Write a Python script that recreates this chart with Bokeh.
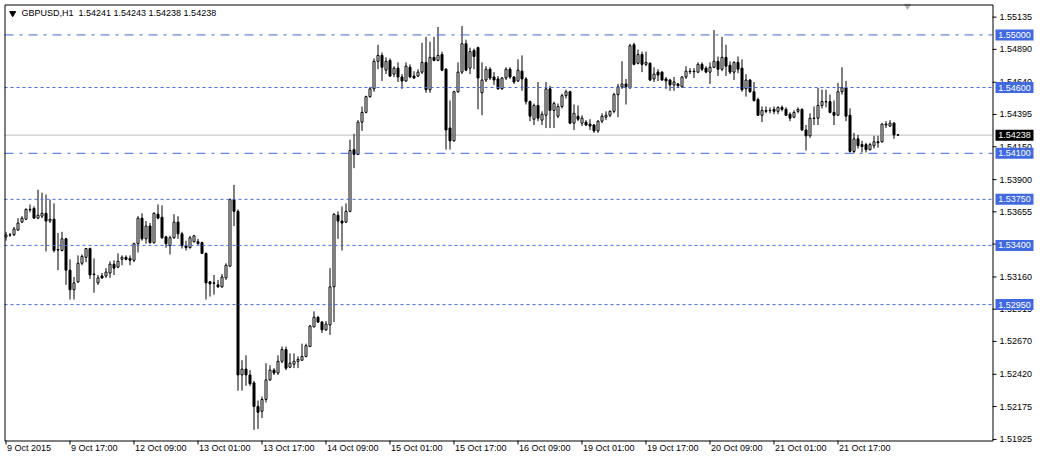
from bokeh.plotting import figure
from bokeh.models import Range1d, ColumnDataSource
from bokeh.core.properties import value
from bokeh.embed import file_html
from bokeh.resources import INLINE

# ---------------- data (GBPUSD, H1) ----------------
symbol = "GBPUSD,H1"

opens = [1.53465, 1.53478, 1.53480, 1.53517, 1.53577, 1.53599, 1.53674, 1.53681, 1.53607, 1.53622,
         1.53644, 1.53585, 1.53599, 1.53368, 1.53361, 1.53450, 1.53212, 1.53063, 1.53123, 1.53264,
         1.53309, 1.53376, 1.53182, 1.53115, 1.53168, 1.53168, 1.53190, 1.53257, 1.53235, 1.53294,
         1.53309, 1.53301, 1.53287, 1.53413, 1.53607, 1.53450, 1.53547, 1.53421, 1.53637, 1.53614,
         1.53465, 1.53398, 1.53458, 1.53577, 1.53488, 1.53398, 1.53383, 1.53428, 1.53428, 1.53421,
         1.53339, 1.53123, 1.53115, 1.53100, 1.53085, 1.53153, 1.53242, 1.53748, 1.53659, 1.52415,
         1.52460, 1.52415, 1.52355, 1.52176, 1.52139, 1.52229, 1.52378, 1.52452, 1.52430, 1.52519,
         1.52609, 1.52474, 1.52497, 1.52519, 1.52527, 1.52556, 1.52631, 1.52780, 1.52854, 1.52817,
         1.52758, 1.52795, 1.53085, 1.53629, 1.53585, 1.53577, 1.53659, 1.54128, 1.54091, 1.54337,
         1.54411, 1.54531, 1.54590, 1.54799, 1.54844, 1.54732, 1.54806, 1.54702, 1.54747, 1.54680,
         1.54650, 1.54754, 1.54687, 1.54687, 1.54717, 1.54791, 1.54583, 1.54829, 1.54806, 1.54851,
         1.54739, 1.54292, 1.54195, 1.54568, 1.54717, 1.54933, 1.54747, 1.54881, 1.54903, 1.54560,
         1.54657, 1.54739, 1.54680, 1.54665, 1.54590, 1.54672, 1.54739, 1.54680, 1.54650, 1.54724,
         1.54665, 1.54493, 1.54359, 1.54464, 1.54352, 1.54389, 1.54590, 1.54426, 1.54382, 1.54456,
         1.54538, 1.54568, 1.54329, 1.54382, 1.54329, 1.54337, 1.54322, 1.54315, 1.54270, 1.54344,
         1.54374, 1.54389, 1.54419, 1.54546, 1.54605, 1.54627, 1.54598, 1.54925, 1.54784, 1.54851,
         1.54776, 1.54784, 1.54665, 1.54717, 1.54717, 1.54665, 1.54657, 1.54620, 1.54627, 1.54605,
         1.54680, 1.54724, 1.54720, 1.54717, 1.54776, 1.54747, 1.54717, 1.54754, 1.54799, 1.54739,
         1.54829, 1.54769, 1.54717, 1.54791, 1.54747, 1.54590, 1.54657, 1.54568, 1.54508, 1.54389,
         1.54426, 1.54426, 1.54434, 1.54419, 1.54449, 1.54434, 1.54397, 1.54374, 1.54419, 1.54434,
         1.54277, 1.54233, 1.54367, 1.54367, 1.54464, 1.54493, 1.54493, 1.54411, 1.54389, 1.54568,
         1.54598, 1.54389, 1.54114, 1.54210, 1.54166, 1.54166, 1.54128, 1.54158, 1.54188, 1.54188,
         1.54315, 1.54307, 1.54329, 1.54241]

highs = [1.53503, 1.53495, 1.53540, 1.53607, 1.53622, 1.53681, 1.53711, 1.53696, 1.53823, 1.53801,
         1.53786, 1.53748, 1.53719, 1.53495, 1.53503, 1.53458, 1.53294, 1.53160, 1.53324, 1.53331,
         1.53376, 1.53383, 1.53301, 1.53175, 1.53190, 1.53227, 1.53279, 1.53287, 1.53339, 1.53324,
         1.53324, 1.53324, 1.53421, 1.53622, 1.53644, 1.53585, 1.53570, 1.53652, 1.53711, 1.53704,
         1.53473, 1.53473, 1.53637, 1.53622, 1.53503, 1.53436, 1.53473, 1.53480, 1.53450, 1.53428,
         1.53346, 1.53130, 1.53175, 1.53138, 1.53182, 1.53264, 1.53756, 1.53860, 1.53674, 1.52527,
         1.52564, 1.52452, 1.52370, 1.52221, 1.52251, 1.52504, 1.52489, 1.52467, 1.52564, 1.52631,
         1.52631, 1.52579, 1.52579, 1.52556, 1.52653, 1.52653, 1.52795, 1.52899, 1.52862, 1.52825,
         1.52825, 1.53227, 1.53644, 1.53659, 1.53696, 1.53719, 1.54203, 1.54248, 1.54352, 1.54456,
         1.54538, 1.54605, 1.54821, 1.54925, 1.54866, 1.54829, 1.54821, 1.54762, 1.54791, 1.54702,
         1.54791, 1.54776, 1.54724, 1.54739, 1.54940, 1.54985, 1.54948, 1.54985, 1.55060, 1.54873,
         1.54747, 1.54501, 1.54575, 1.54791, 1.55067, 1.54963, 1.54903, 1.54896, 1.54911, 1.54791,
         1.54762, 1.54754, 1.54717, 1.54687, 1.54680, 1.54754, 1.54754, 1.54687, 1.54814, 1.54844,
         1.54680, 1.54501, 1.54478, 1.54642, 1.54419, 1.54642, 1.54613, 1.54493, 1.54478, 1.54553,
         1.54583, 1.54575, 1.54471, 1.54464, 1.54389, 1.54352, 1.54359, 1.54322, 1.54352, 1.54404,
         1.54419, 1.54426, 1.54560, 1.54627, 1.54799, 1.54665, 1.54933, 1.54940, 1.54888, 1.54873,
         1.54873, 1.54791, 1.54754, 1.54739, 1.54724, 1.54680, 1.54665, 1.54680, 1.54635, 1.54687,
         1.54762, 1.54747, 1.54747, 1.54791, 1.54791, 1.54762, 1.54791, 1.55037, 1.54836, 1.54985,
         1.54925, 1.54799, 1.54799, 1.54836, 1.54814, 1.54702, 1.54665, 1.54642, 1.54523, 1.54456,
         1.54456, 1.54449, 1.54456, 1.54456, 1.54464, 1.54449, 1.54411, 1.54426, 1.54449, 1.54441,
         1.54315, 1.54404, 1.54456, 1.54598, 1.54583, 1.54583, 1.54546, 1.54501, 1.54635, 1.54754,
         1.54650, 1.54441, 1.54255, 1.54240, 1.54195, 1.54180, 1.54180, 1.54233, 1.54233, 1.54329,
         1.54344, 1.54352, 1.54337, 1.54243]

lows = [1.53436, 1.53465, 1.53473, 1.53510, 1.53570, 1.53592, 1.53652, 1.53607, 1.53599, 1.53607,
        1.53354, 1.53570, 1.53346, 1.53212, 1.53354, 1.53100, 1.52989, 1.52989, 1.53115, 1.53249,
        1.53272, 1.53145, 1.53041, 1.53100, 1.53145, 1.53153, 1.53153, 1.53175, 1.53227, 1.53249,
        1.53287, 1.53249, 1.53272, 1.53346, 1.53436, 1.53413, 1.53413, 1.53413, 1.53599, 1.53450,
        1.53383, 1.53331, 1.53450, 1.53450, 1.53376, 1.53361, 1.53376, 1.53421, 1.53406, 1.53339,
        1.52989, 1.53011, 1.53026, 1.53078, 1.53078, 1.53138, 1.53235, 1.53547, 1.52296, 1.52296,
        1.52333, 1.52333, 1.51998, 1.52005, 1.52087, 1.52206, 1.52370, 1.52415, 1.52415, 1.52504,
        1.52452, 1.52467, 1.52467, 1.52467, 1.52527, 1.52549, 1.52631, 1.52780, 1.52810, 1.52735,
        1.52750, 1.52720, 1.52817, 1.53450, 1.53361, 1.53570, 1.53652, 1.53987, 1.54091, 1.54270,
        1.54404, 1.54523, 1.54568, 1.54739, 1.54650, 1.54702, 1.54680, 1.54680, 1.54642, 1.54590,
        1.54642, 1.54672, 1.54665, 1.54680, 1.54702, 1.54560, 1.54560, 1.54799, 1.54799, 1.54724,
        1.54128, 1.54128, 1.54188, 1.54560, 1.54702, 1.54724, 1.54702, 1.54739, 1.54434, 1.54389,
        1.54642, 1.54657, 1.54620, 1.54583, 1.54583, 1.54657, 1.54665, 1.54627, 1.54642, 1.54575,
        1.54471, 1.54344, 1.54315, 1.54344, 1.54315, 1.54292, 1.54292, 1.54292, 1.54367, 1.54441,
        1.54516, 1.54322, 1.54277, 1.54344, 1.54307, 1.54307, 1.54277, 1.54255, 1.54255, 1.54329,
        1.54352, 1.54374, 1.54404, 1.54374, 1.54590, 1.54471, 1.54590, 1.54769, 1.54776, 1.54717,
        1.54762, 1.54650, 1.54642, 1.54650, 1.54650, 1.54590, 1.54575, 1.54575, 1.54605, 1.54598,
        1.54665, 1.54702, 1.54672, 1.54709, 1.54724, 1.54709, 1.54627, 1.54747, 1.54687, 1.54724,
        1.54687, 1.54702, 1.54657, 1.54709, 1.54568, 1.54531, 1.54560, 1.54493, 1.54389, 1.54337,
        1.54404, 1.54404, 1.54397, 1.54397, 1.54419, 1.54389, 1.54344, 1.54367, 1.54404, 1.54270,
        1.54121, 1.54218, 1.54315, 1.54315, 1.54441, 1.54449, 1.54404, 1.54315, 1.54389, 1.54546,
        1.54344, 1.54106, 1.54099, 1.54136, 1.54106, 1.54106, 1.54121, 1.54136, 1.54143, 1.54180,
        1.54292, 1.54300, 1.54210, 1.54238]

closes = [1.53480, 1.53480, 1.53525, 1.53570, 1.53607, 1.53674, 1.53670, 1.53607, 1.53629, 1.53644,
          1.53585, 1.53599, 1.53361, 1.53365, 1.53450, 1.53212, 1.53063, 1.53115, 1.53264, 1.53316,
          1.53376, 1.53175, 1.53179, 1.53153, 1.53153, 1.53197, 1.53257, 1.53227, 1.53279, 1.53309,
          1.53294, 1.53287, 1.53413, 1.53607, 1.53450, 1.53547, 1.53421, 1.53644, 1.53607, 1.53458,
          1.53413, 1.53458, 1.53577, 1.53488, 1.53398, 1.53383, 1.53458, 1.53473, 1.53413, 1.53339,
          1.53115, 1.53108, 1.53112, 1.53085, 1.53160, 1.53249, 1.53748, 1.53659, 1.52415, 1.52460,
          1.52415, 1.52348, 1.52176, 1.52132, 1.52229, 1.52378, 1.52452, 1.52430, 1.52519, 1.52609,
          1.52467, 1.52504, 1.52519, 1.52534, 1.52556, 1.52638, 1.52787, 1.52854, 1.52817, 1.52758,
          1.52802, 1.53085, 1.53637, 1.53585, 1.53570, 1.53659, 1.54121, 1.54091, 1.54337, 1.54411,
          1.54531, 1.54590, 1.54799, 1.54844, 1.54754, 1.54799, 1.54687, 1.54747, 1.54680, 1.54650,
          1.54762, 1.54680, 1.54672, 1.54717, 1.54791, 1.54583, 1.54829, 1.54806, 1.54844, 1.54732,
          1.54277, 1.54195, 1.54568, 1.54717, 1.54933, 1.54732, 1.54873, 1.54836, 1.54672, 1.54657,
          1.54739, 1.54672, 1.54657, 1.54590, 1.54672, 1.54739, 1.54680, 1.54642, 1.54732, 1.54665,
          1.54493, 1.54382, 1.54464, 1.54367, 1.54397, 1.54590, 1.54426, 1.54478, 1.54456, 1.54538,
          1.54568, 1.54329, 1.54404, 1.54359, 1.54367, 1.54315, 1.54307, 1.54270, 1.54344, 1.54382,
          1.54389, 1.54419, 1.54546, 1.54605, 1.54627, 1.54605, 1.54918, 1.54776, 1.54851, 1.54776,
          1.54791, 1.54657, 1.54702, 1.54695, 1.54657, 1.54650, 1.54620, 1.54642, 1.54613, 1.54680,
          1.54724, 1.54720, 1.54724, 1.54776, 1.54739, 1.54717, 1.54754, 1.54799, 1.54739, 1.54829,
          1.54762, 1.54717, 1.54791, 1.54739, 1.54583, 1.54657, 1.54568, 1.54501, 1.54389, 1.54426,
          1.54419, 1.54424, 1.54419, 1.54449, 1.54434, 1.54389, 1.54367, 1.54411, 1.54434, 1.54277,
          1.54233, 1.54367, 1.54365, 1.54464, 1.54493, 1.54491, 1.54411, 1.54389, 1.54568, 1.54598,
          1.54382, 1.54114, 1.54210, 1.54158, 1.54151, 1.54128, 1.54166, 1.54188, 1.54180, 1.54322,
          1.54322, 1.54329, 1.54240, 1.54238]

# time axis labels (every 16 hourly bars)
time_tick_bars = [0, 16, 32, 48, 64, 80, 96, 112, 128, 144, 160, 176, 192, 208]
time_tick_labels = ["9 Oct 2015", "9 Oct 17:00", "12 Oct 09:00", "13 Oct 01:00", "13 Oct 17:00",
                    "14 Oct 09:00", "15 Oct 01:00", "15 Oct 17:00", "16 Oct 09:00", "19 Oct 01:00",
                    "19 Oct 17:00", "20 Oct 09:00", "21 Oct 01:00", "21 Oct 17:00"]

# price scale ticks
price_ticks = [1.55135, 1.54890, 1.54640, 1.54395, 1.54150, 1.53900, 1.53655, 1.53410,
               1.53160, 1.52915, 1.52670, 1.52420, 1.52175, 1.51925]

# horizontal line objects
level_prices = [1.55000, 1.54600, 1.54100, 1.53750, 1.53400, 1.52950]
level_dashes = ["9 6 3 6", "3 3", "9 6 3 6", "3 3", "3 3", "3 3"]

# ---------------- layout / style ----------------
FONT = "Liberation Sans"
FS = "9px"
BLUE = "#4169E1"
W, H = 1034, 454
PXB = 4.0                       # pixels per hourly bar
CH_L, CH_T, CH_R, CH_B = 4, 4, 992, 440   # chart window (px)
price_top, price_bot = 1.55231, 1.51917  # prices at the window's top / bottom edge
k = (CH_B - CH_T) / (price_top - price_bot)
x_origin = -5.5 / PXB


def xpx(px):
    return x_origin + px / PXB


def ypx(py):
    return price_top - (py - CH_T) / k


p = figure(width=W, height=H, output_backend="svg", toolbar_location=None,
           x_range=Range1d(xpx(0), xpx(W)), y_range=Range1d(ypx(H), ypx(0)),
           x_axis_location=None, y_axis_location=None, min_border=0)
p.outline_line_color = None
p.background_fill_color = "white"
p.border_fill_color = "white"
p.grid.visible = False

txt = dict(text_font=value(FONT), text_font_size=value(FS))

# chart-shift marker
p.scatter(x=[xpx(907)], y=[ypx(5.5)], marker="inverted_triangle", size=6,
          fill_color="#B4B4B4", line_color="#B4B4B4")

# bid line
p.segment(x0=[xpx(CH_L)], x1=[xpx(CH_R)], y0=[closes[-1]], y1=[closes[-1]],
          line_color="#C0C0C0", line_width=1)

# candles
idx = list(range(len(opens)))
tops = [max(o, c) for o, c in zip(opens, closes)]
bottoms = [min(o, c) for o, c in zip(opens, closes)]
tops = [max(t, b + 0.000003) for t, b in zip(tops, bottoms)]
fills = ["white" if c >= o else "black" for o, c in zip(opens, closes)]
src = ColumnDataSource(dict(x=idx, high=highs, low=lows, top=tops, bottom=bottoms, fill=fills))
p.segment(x0="x", y0="low", x1="x", y1="high", source=src, line_color="black", line_width=1)
p.vbar(x="x", width=0.5, top="top", bottom="bottom", source=src, fill_color="fill",
       line_color="black", line_width=1)

# horizontal level lines
for lv, dash in zip(level_prices, level_dashes):
    p.segment(x0=[xpx(CH_L)], x1=[xpx(CH_R)], y0=[lv], y1=[lv], line_color=BLUE,
              line_width=1, line_dash=dash)

# chart window border
p.quad(left=[xpx(CH_L + 0.5)], right=[xpx(CH_R + 0.5)], top=[ypx(CH_T + 0.5)],
       bottom=[ypx(CH_B + 0.5)], fill_color=None, line_color="black", line_width=1)

# price scale: ticks and labels
n = len(price_ticks)
p.segment(x0=[xpx(CH_R)] * n, x1=[xpx(CH_R + 4)] * n, y0=price_ticks, y1=price_ticks,
          line_color="black", line_width=1)
p.text(x=[xpx(CH_R + 7)] * n, y=price_ticks, text=[f"{t:.5f}" for t in price_ticks],
       text_color=value("black"), text_align=value("left"), text_baseline=value("middle"),
       **txt)

# price boxes of the lines and of the bid
box_x = xpx(CH_R + 3 + 19)
nl = len(level_prices)
p.rect(x=[box_x] * nl, y=level_prices, width=38, height=11, width_units="screen",
       height_units="screen", fill_color=BLUE, line_color=None)
p.rect(x=[box_x], y=[closes[-1]], width=38, height=11, width_units="screen",
       height_units="screen", fill_color="black", line_color=None)
p.text(x=[xpx(CH_R + 5.7)] * (nl + 1), y=level_prices + [closes[-1]],
       text=[f"{v:.5f}" for v in level_prices + [closes[-1]]],
       text_color=value("white"), text_align=value("left"), text_baseline=value("middle"),
       **txt)

# time scale: ticks and labels
nt = len(time_tick_bars)
p.segment(x0=time_tick_bars, x1=time_tick_bars, y0=[ypx(CH_B)] * nt, y1=[ypx(CH_B + 4)] * nt,
          line_color="black", line_width=1)
p.text(x=time_tick_bars, y=[ypx(CH_B + 2)] * nt, x_offset=1, text=time_tick_labels,
       text_color=value("black"), text_align=value("left"),
       text_baseline=value("top"), **txt)

# header
NB = "\u00a0"
header = (f"{symbol}{NB}{NB}{opens[-1]:.5f} {highs[-1]:.5f} "
          f"{lows[-1]:.5f} {closes[-1]:.5f}")
p.scatter(x=[xpx(12.2)], y=[ypx(12.8)], marker="inverted_triangle", size=6,
          fill_color="black", line_color="black")
p.text(x=[xpx(21)], y=[ypx(7)], text=[header], text_color=value("black"),
       text_align=value("left"), text_baseline=value("top"), **txt)

open("out.html", "w").write(file_html(p, INLINE))
